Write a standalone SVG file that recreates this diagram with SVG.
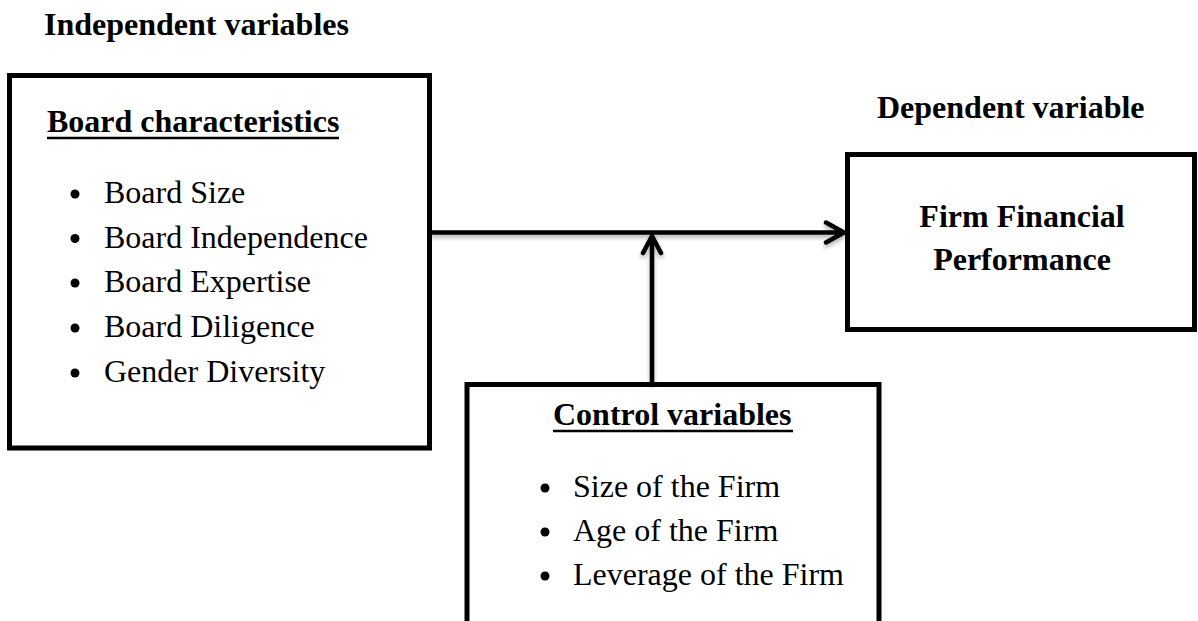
<svg xmlns="http://www.w3.org/2000/svg" width="1198" height="621" viewBox="0 0 1198 621">
<style>
.box{fill:#fff;stroke:#000;stroke-width:5}
.t{font-family:"Liberation Serif","Times New Roman",serif;font-size:32px;fill:#000}
.b{font-weight:bold}
.ul{stroke:#000;stroke-width:2.5}
.con{fill:none;stroke:#000;stroke-width:4.5;stroke-linecap:round;stroke-linejoin:round}
</style>
<defs>
<filter id="sh" x="-10%" y="-50%" width="120%" height="200%">
<feDropShadow dx="0" dy="3" stdDeviation="2" flood-color="#000" flood-opacity="0.3"/>
</filter>
</defs>
<rect width="1198" height="621" fill="#fff"/>
<text class="t b" x="44" y="35">Independent variables</text>
<text class="t b" x="877" y="118">Dependent variable</text>
<g id="board">
<rect class="box" x="9.5" y="75.5" width="420" height="372.5"/>
<text class="t b" x="47" y="132">Board characteristics</text>
<line class="ul" x1="47" y1="138" x2="339" y2="138"/>
<circle cx="75" cy="194" r="4.5"/><text class="t" x="104" y="203">Board Size</text>
<circle cx="75" cy="238.5" r="4.5"/><text class="t" x="104" y="247.5">Board Independence</text>
<circle cx="75" cy="283" r="4.5"/><text class="t" x="104" y="292">Board Expertise</text>
<circle cx="75" cy="328" r="4.5"/><text class="t" x="104" y="337">Board Diligence</text>
<circle cx="75" cy="373" r="4.5"/><text class="t" x="104" y="382">Gender Diversity</text>
</g>
<g id="firm">
<rect class="box" x="847.5" y="154.5" width="347" height="175"/>
<text class="t b" x="1022" y="227" text-anchor="middle">Firm Financial</text>
<text class="t b" x="1022" y="270" text-anchor="middle">Performance</text>
</g>
<g id="control">
<path class="box" d="M467,630 V384.5 H879 V630"/>
<text class="t b" x="553" y="425">Control variables</text>
<line class="ul" x1="553" y1="431" x2="793" y2="431"/>
<circle cx="545" cy="488" r="4.5"/><text class="t" x="573" y="497">Size of the Firm</text>
<circle cx="545" cy="532" r="4.5"/><text class="t" x="573" y="541">Age of the Firm</text>
<circle cx="545" cy="576" r="4.5"/><text class="t" x="573" y="585">Leverage of the Firm</text>
</g>
<g id="connectors" filter="url(#sh)">
<path class="con" d="M432,232.5 H844 M826,222.5 L844,232.5 L826,242.5"/>
<path class="con" d="M652,382 V236 M643,253 L652,236 L661,253"/>
</g>
</svg>
